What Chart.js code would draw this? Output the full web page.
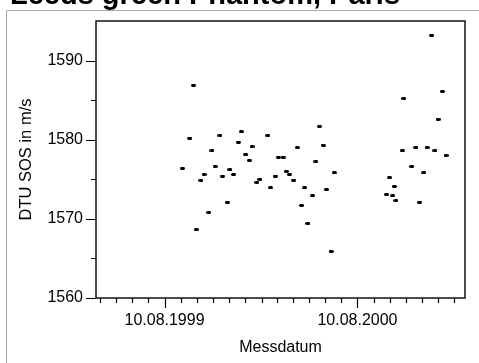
<!DOCTYPE html>
<html>
<head>
<meta charset="utf-8">
<title>Leeds green Phantom, Paris</title>
<script src="https://cdn.jsdelivr.net/npm/chart.js@4.4.1/dist/chart.umd.min.js"></script>
<style>
    html, body { margin: 0; padding: 0; background: #fff; }
    #wrap { position: relative; width: 479px; height: 363px; overflow: hidden; }
</style>
</head>
<body>
<div id="wrap"><canvas id="chart" width="479" height="363"></canvas></div>
<script>
const chartTitle = "Leeds green Phantom, Paris";
const xTitle = "Messdatum";
const yTitle = "DTU SOS in m/s";

// measuring dates
const dates = [
    "1999-09-13", "1999-09-27", "1999-10-04", "1999-10-09", "1999-10-18", "1999-10-24",
    "1999-11-02", "1999-11-08", "1999-11-14", "1999-11-23", "1999-11-28", "1999-12-07",
    "1999-12-12", "1999-12-19", "1999-12-28", "2000-01-03", "2000-01-11", "2000-01-18",
    "2000-01-23", "2000-02-01", "2000-02-07", "2000-02-22", "2000-02-27", "2000-03-07",
    "2000-03-13", "2000-03-22", "2000-03-28", "2000-04-03", "2000-04-11", "2000-04-18",
    "2000-04-26", "2000-05-02", "2000-05-08", "2000-05-17", "2000-05-23", "2000-05-30",
    "2000-06-06", "2000-06-12", "2000-06-21", "2000-06-27",
    "2000-10-04", "2000-10-10", "2000-10-16", "2000-10-19", "2000-10-22", "2000-11-03",
    "2000-11-06", "2000-11-21", "2000-11-29", "2000-12-06", "2000-12-14", "2000-12-20",
    "2000-12-29", "2001-01-04", "2001-01-10", "2001-01-18", "2001-01-25",
];

// speed of sound, m/s
const sos = [
    1576.4, 1580.2, 1586.9, 1568.6, 1574.9, 1575.6,
    1570.8, 1578.6, 1576.6, 1580.5, 1575.4, 1572.1,
    1576.2, 1575.6, 1579.7, 1581.0, 1578.1, 1577.4,
    1579.1, 1574.6, 1575.0, 1580.5, 1573.9, 1575.4,
    1577.8, 1577.8, 1576.0, 1575.6, 1574.9, 1579.0,
    1571.7, 1573.9, 1569.4, 1572.9, 1577.2, 1581.7,
    1579.3, 1573.7, 1565.9, 1575.8,
    1573.1, 1575.2, 1572.9, 1574.1, 1572.3, 1578.6,
    1585.2, 1576.6, 1579.0, 1572.1, 1575.8, 1579.0,
    1593.2, 1578.6, 1582.6, 1586.1, 1578.0,
];

const xRange = ["1999-04-02", "2001-03-02"];
const xTickDates = [
    "1999-04-10", "1999-05-10", "1999-06-10", "1999-07-10", "1999-08-10", "1999-09-10",
    "1999-10-10", "1999-11-10", "1999-12-10", "2000-01-10", "2000-02-10", "2000-03-10",
    "2000-04-10", "2000-05-10", "2000-06-10", "2000-07-10", "2000-08-10", "2000-09-10",
    "2000-10-10", "2000-11-10", "2000-12-10", "2001-01-10", "2001-02-10",
];
const xLabelDates = ["1999-08-10", "2000-08-10"];
const yRange = [1560, 1595];
const yStep = 5;
const yLabelStep = 10;

const day = (s) => {
    const [y, m, d] = s.split("-").map(Number);
    return Date.UTC(y, m - 1, d) / 86400000;
};
const fmt = (s) => {
    const [y, m, d] = s.split("-");
    return d + "." + m + "." + y;
};

const points = dates.map((d, i) => ({ x: day(d), y: sos[i] }));

// small dash used as marker, soft edges like the scanned original
const marker = document.createElement("canvas");
marker.width = 5;
marker.height = 3;
const mctx = marker.getContext("2d");
mctx.fillStyle = "rgba(0,0,0,0.45)";
mctx.fillRect(0, 0, 5, 3);
mctx.fillStyle = "#000";
mctx.fillRect(1, 0, 3, 3);
mctx.fillRect(0, 1, 5, 1);

const FONT = "'Liberation Sans', Arial, Helvetica, sans-serif";
const MAJOR = 10;
const MINOR = 5;

const frame = {
    id: "frame",
    beforeDraw(chart) {
        const ctx = chart.ctx;
        ctx.save();
        ctx.strokeStyle = "#a8a8a8";
        ctx.lineWidth = 1;
        ctx.beginPath();
        ctx.moveTo(6.5, chart.height);
        ctx.lineTo(6.5, 10.5);
        ctx.lineTo(chart.width, 10.5);
        ctx.stroke();
        ctx.fillStyle = "#000";
        ctx.font = "bold 29px " + FONT;
        ctx.textBaseline = "alphabetic";
        ctx.textAlign = "left";
        ctx.fillText(chartTitle, 10, 4);
        ctx.restore();
    },
    afterDraw(chart) {
        const ctx = chart.ctx;
        const a = chart.chartArea;
        const xs = chart.scales.x;
        const ys = chart.scales.y;
        ctx.save();
        ctx.strokeStyle = "#000";
        ctx.lineWidth = 1.2;
        ctx.beginPath();
        xs.ticks.forEach((t) => {
            const px = Math.round(xs.getPixelForValue(t.value)) + 0.5;
            const len = t.label ? MAJOR : MINOR;
            ctx.moveTo(px, a.bottom);
            ctx.lineTo(px, a.bottom + len);
        });
        ys.ticks.forEach((t) => {
            if (t.value >= yRange[1]) return;
            const py = Math.round(ys.getPixelForValue(t.value)) + 0.5;
            const len = t.label !== "" ? MAJOR : MINOR;
            ctx.moveTo(a.left, py);
            ctx.lineTo(a.left - len, py);
        });
        ctx.stroke();
        ctx.lineWidth = 1.4;
        ctx.strokeRect(a.left, a.top, a.right - a.left, a.bottom - a.top);
        ctx.restore();
    },
};

new Chart(document.getElementById("chart"), {
    type: "scatter",
    data: {
        datasets: [
            {
                data: points,
                pointStyle: marker,
                pointRadius: 2,
                pointHoverRadius: 2,
                backgroundColor: "#000",
                borderColor: "#000",
            },
        ],
    },
    options: {
        responsive: false,
        animation: false,
        events: [],
        layout: { padding: { left: 0, top: 21, right: 14, bottom: 0 } },
        plugins: {
            legend: { display: false },
            tooltip: { enabled: false },
        },
        scales: {
            x: {
                type: "linear",
                min: day(xRange[0]),
                max: day(xRange[1]),
                afterBuildTicks: (scale) => {
                    scale.ticks = xTickDates.map((d) => ({ value: day(d) }));
                },
                afterFit: (scale) => {
                    scale.height = 65;
                },
                ticks: {
                    autoSkip: false,
                    maxRotation: 0,
                    padding: 3,
                    color: "#000",
                    font: { family: FONT, size: 16 },
                    callback: (value) => {
                        const hit = xLabelDates.find((d) => day(d) === value);
                        return hit ? fmt(hit) : "";
                    },
                },
                grid: { display: false, drawTicks: true, tickLength: MAJOR },
                border: { display: false },
                title: {
                    display: true,
                    text: xTitle,
                    color: "#000",
                    font: { family: FONT, size: 16 },
                    padding: { top: 0, bottom: 6 },
                },
            },
            y: {
                min: yRange[0],
                max: yRange[1],
                afterFit: (scale) => {
                    scale.width = 96;
                },
                ticks: {
                    stepSize: yStep,
                    padding: 3,
                    color: "#000",
                    font: { family: FONT, size: 16 },
                    callback: (value) => (value % yLabelStep === 0 && value < yRange[1] ? value : ""),
                },
                grid: { display: false, drawTicks: true, tickLength: MAJOR },
                border: { display: false },
                title: {
                    display: true,
                    text: yTitle,
                    color: "#000",
                    font: { family: FONT, size: 16.5 },
                    padding: { top: 17, bottom: 0 },
                },
            },
        },
    },
    plugins: [frame],
});
</script>
</body>
</html>
